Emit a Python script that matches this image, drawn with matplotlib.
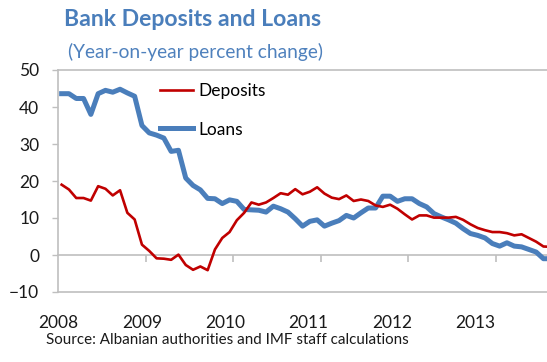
import numpy as np
import matplotlib.pyplot as plt
from matplotlib.lines import Line2D

# Year-on-year growth, monthly, Jan 2008 - Aug 2013
deposits = [
    19.0, 17.7, 15.4, 15.4, 14.7, 18.6, 17.9, 16.1, 17.5, 11.4, 9.6, 2.8,
    1.1, -0.9, -1.0, -1.3, 0.1, -2.7, -4.0, -3.1, -4.1, 1.5, 4.6, 6.2,
    9.4, 11.4, 14.2, 13.6, 14.2, 15.4, 16.7, 16.3, 17.8, 16.4, 17.1, 18.3,
    16.6, 15.5, 15.1, 16.1, 14.6, 15.0, 14.6, 13.4, 13.0, 13.6, 12.5, 11.0,
    9.6, 10.7, 10.7, 10.1, 10.1, 10.1, 10.3, 9.5, 8.3, 7.3, 6.7, 6.2,
    6.2, 5.9, 5.3, 5.6, 4.6, 3.6, 2.3, 2.2,
]
loans = [
    43.6, 43.6, 42.3, 42.3, 38.0, 43.6, 44.5, 44.0, 44.8, 43.8, 42.9, 35.0,
    33.0, 32.4, 31.6, 28.0, 28.3, 20.8, 18.8, 17.6, 15.3, 15.2, 13.9, 14.9,
    14.5, 12.3, 12.2, 12.1, 11.6, 13.2, 12.5, 11.6, 9.8, 7.8, 9.1, 9.5,
    7.8, 8.6, 9.3, 10.7, 10.0, 11.4, 12.7, 12.7, 15.9, 15.9, 14.5, 15.2,
    15.2, 13.9, 13.0, 11.2, 10.3, 9.5, 8.6, 7.1, 5.8, 5.3, 4.6, 3.1,
    2.4, 3.3, 2.4, 2.2, 1.5, 0.8, -1.0, -1.0,
]
years = [2008, 2009, 2010, 2011, 2012, 2013]
yticks = [-10, 0, 10, 20, 30, 40, 50]

FONT = "Lato"
plt.rcParams["font.family"] = [FONT, "DejaVu Sans"]
GRAY = "#BFBFBF"
RED = "#C00000"
BLUE = "#4A7EBB"

W, H = 547, 362
fig = plt.figure(figsize=(W / 100, H / 100), dpi=100)

def px_box(x0, y0, x1, y1):
    return [x0 / W, 1 - y1 / H, (x1 - x0) / W, (y1 - y0) / H]

box = px_box(58, 70, 547, 292)

# year labels along the bottom (separate, invisible axes)
lab = fig.add_axes(box)
lab.set_xlim(2008 - 0.7 / 83.3, 2008 + (547 - 58.7) / 83.3)
lab.set_xticks(years)
lab.set_xticklabels([str(y) for y in years])
lab.tick_params(axis="x", length=0, pad=16.5, labelsize=12.5, labelcolor="#1a1a1a")
lab.set_yticks([])
lab.patch.set_visible(False)
for s in lab.spines.values():
    s.set_visible(False)

ax = fig.add_axes(box)
ax.patch.set_visible(False)
x = 2008 + (np.arange(len(deposits)) + 0.5) / 12.0
ax.plot(x, loans, color=BLUE, lw=3.6, solid_joinstyle="round", zorder=3)
ax.plot(x, deposits, color=RED, lw=1.9, solid_joinstyle="round", zorder=4)

ax.set_xlim(2008, 2008 + 489 / 87.6)
ax.set_ylim(-10, 50)

# value axis
ax.set_yticks(yticks)
ax.tick_params(axis="y", direction="out", length=4.5, width=1, color=GRAY,
               labelsize=12.5, pad=9, labelcolor="#1a1a1a")
for s in ["left", "top"]:
    ax.spines[s].set_color(GRAY)
    ax.spines[s].set_linewidth(1.2)
ax.spines["right"].set_visible(False)
ax.axhline(-10, color=GRAY, lw=1.2, zorder=1, clip_on=False)

# category axis crossing at zero, tick marks at year boundaries
ax.spines["bottom"].set_position(("data", 0))
ax.spines["bottom"].set_color(GRAY)
ax.spines["bottom"].set_linewidth(1.2)
ax.set_xticks(years[1:])
ax.tick_params(axis="x", direction="out", length=5, width=1.2, color=GRAY,
               labelbottom=False)

# legend
handles = [Line2D([], [], color=RED, lw=1.9), Line2D([], [], color=BLUE, lw=3.6)]
fig.legend(handles, ["Deposits", "Loans"], loc="upper left",
           bbox_to_anchor=(160 / W, 1 - 83 / H), frameon=False,
           fontsize=12.5, handlelength=1.9, handletextpad=0.3,
           labelspacing=1.3, borderpad=0, borderaxespad=0)

fig.text(64 / W, 1 - 20 / H, "Bank Deposits and Loans", fontsize=16.6,
         fontweight="bold", color=BLUE, va="center", ha="left")
fig.text(68 / W, 1 - 52 / H, "(Year-on-year percent change)", fontsize=13.8,
         color="#4F81BD", va="center", ha="left")
fig.text(46 / W, 1 - 340 / H,
         "Source: Albanian authorities and IMF staff calculations",
         fontsize=10.9, color="#1a1a1a", va="center", ha="left")

fig.savefig("out.png", dpi=100)
